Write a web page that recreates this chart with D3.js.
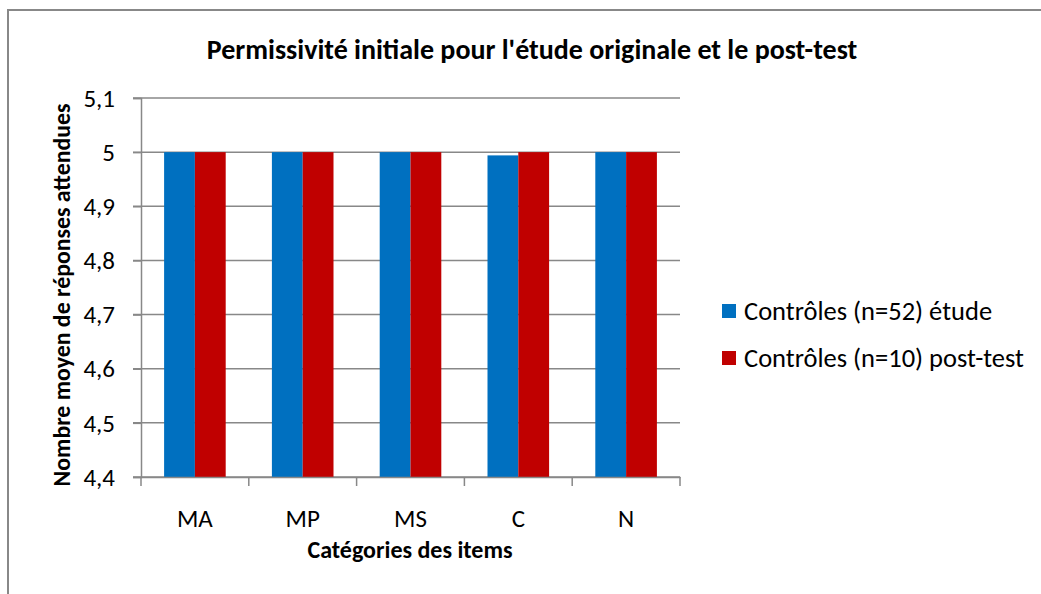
<!DOCTYPE html>
<html>
<head>
<meta charset="utf-8">
<script src="https://cdn.jsdelivr.net/npm/d3@7"></script>
<style>
  body { margin: 0; background: #fff; }
  text { font-family: Carlito, Calibri, "Open Sans", sans-serif; fill: #000; }
</style>
</head>
<body>
<svg width="1041" height="594"></svg>
<script>
const categories = ["MA", "MP", "MS", "C", "N"];
const seriesNames = ["Contrôles (n=52) étude", "Contrôles (n=10) post-test"];
const etude = [5, 5, 5, 4.994, 5];
const postTest = [5, 5, 5, 5, 5];
const yTicks = [4.4, 4.5, 4.6, 4.7, 4.8, 4.9, 5, 5.1];
const colors = ["#0070C0", "#C00000"];

const svg = d3.select("svg");
const plotLeft = 141, plotRight = 680, plotTop = 98, plotBottom = 477;

// chart border
svg.append("rect")
    .attr("x", 8).attr("y", 10)
    .attr("width", 1060).attr("height", 620)
    .attr("fill", "none")
    .attr("stroke", "#888")
    .attr("stroke-width", 2);

const x = d3.scaleBand().domain(categories).range([plotLeft, plotRight]);
const inner = d3.scaleBand().domain([0, 1]).range([0, x.bandwidth()]).paddingInner(0).paddingOuter(0.75);
const y = d3.scaleLinear().domain([4.4, 5.1]).range([plotBottom, plotTop]);

// gridlines
svg.append("g")
    .selectAll("line")
    .data(yTicks)
    .join("line")
    .attr("x1", plotLeft - 8).attr("x2", plotRight)
    .attr("y1", d => y(d)).attr("y2", d => y(d))
    .attr("stroke", "#888").attr("stroke-width", 1.5);

// bars
const data = categories.map((c, i) => ({c, vals: [etude[i], postTest[i]]}));
svg.append("g")
    .selectAll("g")
    .data(data)
    .join("g")
    .attr("transform", d => `translate(${x(d.c)},0)`)
    .selectAll("rect")
    .data(d => d.vals.map((v, k) => ({v, k})))
    .join("rect")
    .attr("x", d => inner(d.k))
    .attr("width", inner.bandwidth())
    .attr("y", d => y(d.v))
    .attr("height", d => plotBottom - y(d.v))
    .attr("fill", d => colors[d.k]);

// y axis
const yAxis = svg.append("g")
    .attr("transform", `translate(${plotLeft},0)`)
    .call(d3.axisLeft(y).tickValues(yTicks).tickSize(8).tickPadding(18)
        .tickFormat(d => d3.format(".1f")(d).replace(".0", "").replace(".", ",")));
yAxis.select(".domain").attr("stroke", "#888").attr("stroke-width", 1.5);
yAxis.selectAll(".tick line").attr("stroke", "#888").attr("stroke-width", 1.5);
yAxis.selectAll("text").attr("font-size", 25).attr("dy", "0.33em");

// x axis
const xAxis = svg.append("g")
    .attr("transform", `translate(0,${plotBottom})`)
    .call(d3.axisBottom(x).tickSize(0).tickPadding(32));
xAxis.select(".domain").attr("stroke", "#888").attr("stroke-width", 1.5);
xAxis.selectAll("text").attr("font-size", 25);
xAxis.append("g")
    .selectAll("line")
    .data(d3.range(categories.length + 1))
    .join("line")
    .attr("x1", i => plotLeft + i * x.step()).attr("x2", i => plotLeft + i * x.step())
    .attr("y1", 0).attr("y2", 9)
    .attr("stroke", "#888").attr("stroke-width", 1.5);

// titles
svg.append("text")
    .attr("x", 532).attr("y", 59)
    .attr("text-anchor", "middle")
    .attr("font-size", 28).attr("font-weight", "bold")
    .text("Permissivité initiale pour l'étude originale et le post-test");

svg.append("text")
    .attr("x", 410).attr("y", 558)
    .attr("text-anchor", "middle")
    .attr("font-size", 24).attr("font-weight", "bold")
    .text("Catégories des items");

svg.append("text")
    .attr("transform", "translate(70,295) rotate(-90)")
    .attr("text-anchor", "middle")
    .attr("font-size", 23.8).attr("font-weight", "bold")
    .text("Nombre moyen de réponses attendues");

// legend
const legend = svg.append("g")
    .selectAll("g")
    .data(seriesNames)
    .join("g")
    .attr("transform", (d, i) => `translate(722,${304 + i * 47})`);
legend.append("rect")
    .attr("width", 14).attr("height", 14)
    .attr("fill", (d, i) => colors[i]);
legend.append("text")
    .attr("x", 22).attr("y", 16)
    .attr("font-size", 26.5)
    .text(d => d);
</script>
</body>
</html>
